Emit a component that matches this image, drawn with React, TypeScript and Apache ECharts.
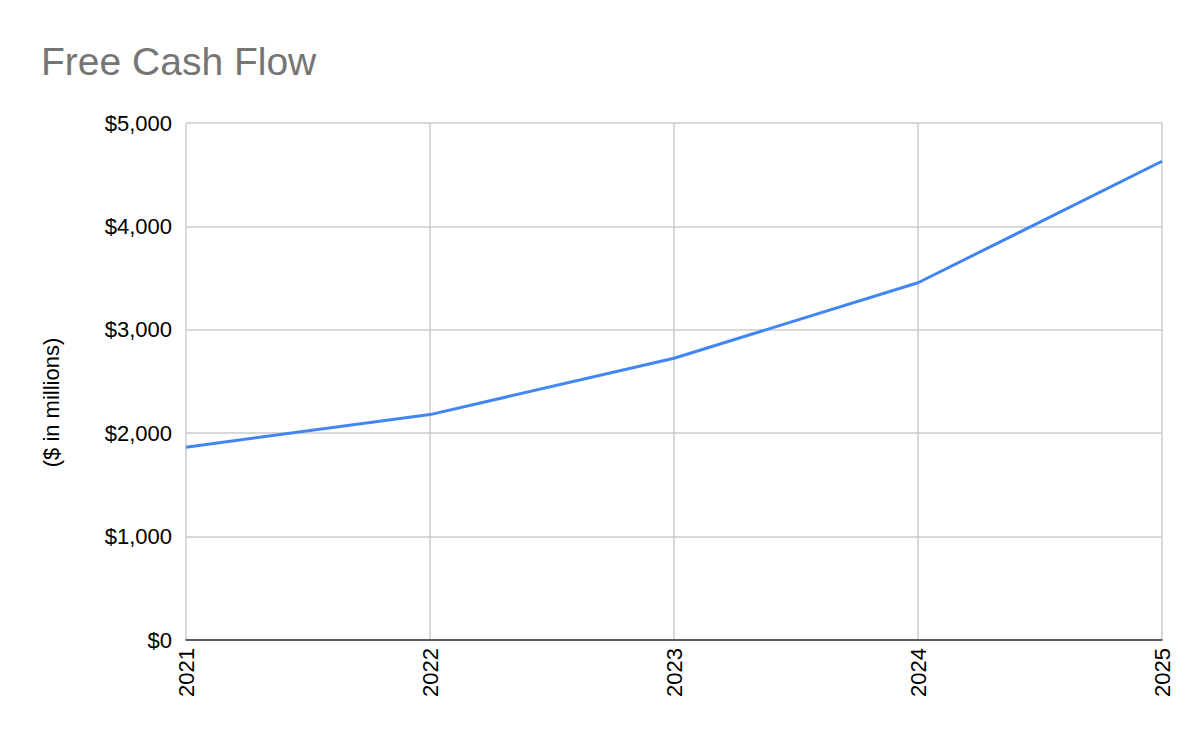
import { useEffect, useRef } from "react";
import * as echarts from "echarts";

const years = ["2021", "2022", "2023", "2024", "2025"];
const freeCashFlow = [1865, 2180, 2725, 3455, 4630];
const yTicks = { min: 0, max: 5000, interval: 1000 };

const fmtDollar = (v: number) => "$" + v.toLocaleString("en-US");

export default function App() {
  const ref = useRef<HTMLDivElement | null>(null);

  useEffect(() => {
    document.body.style.margin = "0";
    if (!ref.current) {
      return;
    }

    const chart = echarts.init(ref.current, null, { renderer: "svg" });

    chart.setOption({
      animation: false,
      backgroundColor: "#ffffff",
      textStyle: { fontFamily: "Arial, 'Liberation Sans', sans-serif" },
      title: {
        text: "Free Cash Flow",
        left: 36,
        top: 37,
        textStyle: {
          color: "#757575",
          fontSize: 39,
          fontWeight: "normal"
        }
      },
      grid: {
        left: 186,
        right: 38,
        top: 123,
        bottom: 102
      },
      xAxis: {
        type: "category",
        data: years,
        boundaryGap: false,
        axisLine: { lineStyle: { color: "#333333", width: 1.5 } },
        axisTick: { show: false },
        axisLabel: {
          rotate: 90,
          color: "#000000",
          fontSize: 22,
          margin: 8
        },
        splitLine: { show: true, lineStyle: { color: "#cccccc", width: 1.5 } }
      },
      yAxis: {
        type: "value",
        min: yTicks.min,
        max: yTicks.max,
        interval: yTicks.interval,
        name: "($ in millions)",
        nameLocation: "middle",
        nameGap: 124,
        // nudge the rotated name down a bit, as in the source
        nameTextStyle: { color: "#000000", fontSize: 22, padding: [0, 42, 0, 0] },
        axisLine: { show: false },
        axisTick: { show: false },
        axisLabel: {
          color: "#000000",
          fontSize: 22,
          margin: 14,
          formatter: fmtDollar
        },
        splitLine: { lineStyle: { color: "#cccccc", width: 1.5 } }
      },
      series: [
        {
          name: "Free Cash Flow",
          type: "line",
          data: freeCashFlow,
          symbol: "none",
          lineStyle: { color: "#4285f4", width: 3 }
        }
      ]
    });

    return () => {
      chart.dispose();
    };
  }, []);

  return <div ref={ref} style={{ width: 1200, height: 742 }} />;
}
